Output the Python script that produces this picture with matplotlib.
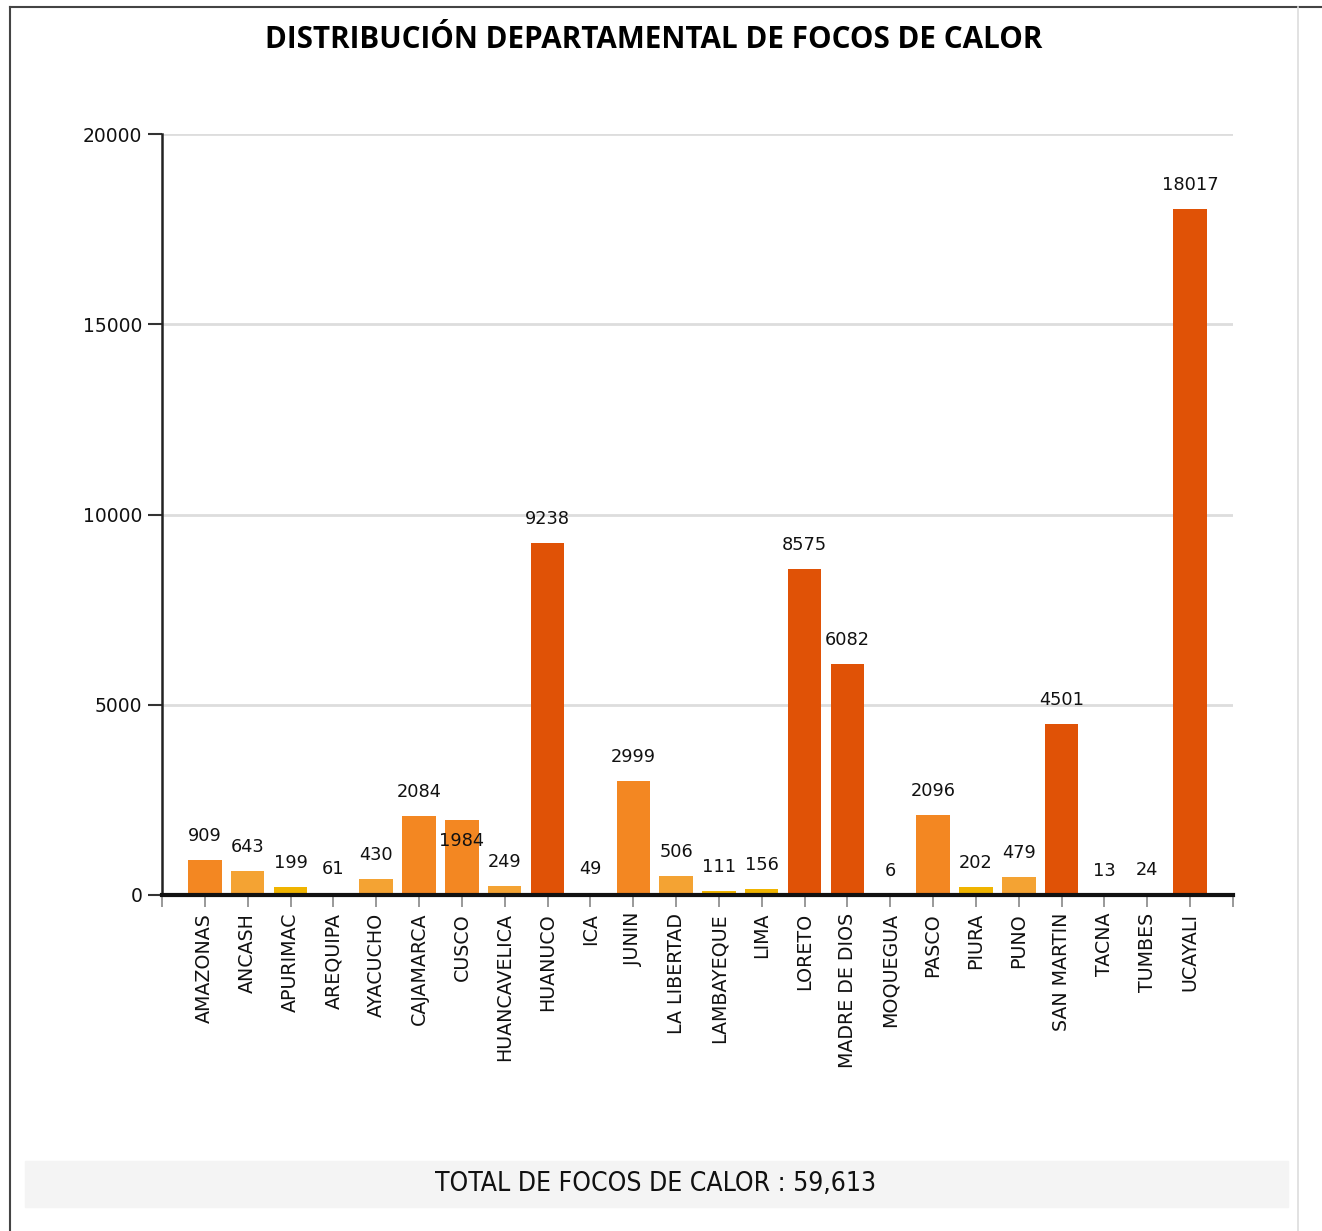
import matplotlib
matplotlib.use("Agg")
import matplotlib.pyplot as plt
import numpy as np

# departamentos y focos de calor
departamentos = ["AMAZONAS", "ANCASH", "APURIMAC", "AREQUIPA", "AYACUCHO", "CAJAMARCA",
                 "CUSCO", "HUANCAVELICA", "HUANUCO", "ICA", "JUNIN", "LA LIBERTAD",
                 "LAMBAYEQUE", "LIMA", "LORETO", "MADRE DE DIOS", "MOQUEGUA", "PASCO",
                 "PIURA", "PUNO", "SAN MARTIN", "TACNA", "TUMBES", "UCAYALI"]
focos = [909, 643, 199, 61, 430, 2084, 1984, 249, 9238, 49, 2999, 506,
         111, 156, 8575, 6082, 6, 2096, 202, 479, 4501, 13, 24, 18017]
y_ticks = [0, 5000, 10000, 15000, 20000]

def color_for(v):
  # colour classes
  if v >= 4000:
    return "#E05206"
  if v >= 900:
    return "#F38722"
  if v >= 225:
    return "#F4A333"
  return "#F0B400"

W, H = 1322, 1231
fig = plt.figure(figsize=(W / 100, H / 100), dpi=100)
plt.rcParams['font.family'] = ['DejaVu Sans']

ax = fig.add_axes([162 / W, 1 - 895 / H, (1233 - 162) / W, (895 - 134) / H])

x = np.arange(1, len(departamentos) + 1)
colors = [color_for(v) for v in focos]
bars = ax.bar(x, focos, width=0.78, color=colors, zorder=3)

for xi, v, name in zip(x, focos, departamentos):
  dy = 19
  if name == "CUSCO":
    dy = -26
  ax.annotate(str(v), (xi, v), xytext=(0, dy), textcoords="offset pixels",
              ha="center", va="baseline", fontsize=12.8, color="#111111", zorder=4)

ax.set_xlim(0, len(departamentos) + 1)
ax.set_ylim(0, 20000)
ax.set_yticks(y_ticks)
ax.set_yticklabels([str(t) for t in y_ticks], fontsize=13.5, color="#111111")
ax.set_xticks(np.arange(0, len(departamentos) + 2))
ax.set_xticklabels([""] + departamentos + [""], rotation=90, fontsize=13.7, color="#111111")
ax.tick_params(axis="x", length=8.6, width=1.2, color="#888888", pad=4.3)
ax.tick_params(axis="y", length=10, width=1.5, color="#333333", pad=4.3)

ax.yaxis.grid(True, color="#DDDDDD", linewidth=2, zorder=0)
ax.set_axisbelow(True)
for s in ["top", "right"]:
  ax.spines[s].set_visible(False)
ax.spines["left"].set_linewidth(1.8)
ax.spines["left"].set_color("#222222")
ax.spines["bottom"].set_linewidth(3)
ax.spines["bottom"].set_color("#111111")
ax.spines["bottom"].set_zorder(5)

fig.text(654 / W, 1 - 40 / H, "DISTRIBUCIÓN DEPARTAMENTAL DE FOCOS DE CALOR",
         ha="center", va="center", fontsize=21.3, fontweight="bold",
         family=["Open Sans", "DejaVu Sans"], color="#000000")

# caja del total
fig.patches.append(plt.Rectangle((25 / W, 1 - 1207 / H), (1288 - 25) / W, 46 / H,
                                 transform=fig.transFigure, color="#F4F4F4", zorder=0))
fig.text(656 / W, 1 - 1184 / H, "TOTAL DE FOCOS DE CALOR : 59,613",
         ha="center", va="center", fontsize=19, family=["DejaVu Sans"],
         fontstretch="condensed", color="#111111")

# marco
fig.add_artist(plt.Line2D([10 / W, 10 / W], [0, 1 - 7 / H], transform=fig.transFigure,
                          color="#444444", linewidth=1.5))
fig.add_artist(plt.Line2D([10 / W, 1], [1 - 7 / H, 1 - 7 / H], transform=fig.transFigure,
                          color="#444444", linewidth=1.5))
fig.add_artist(plt.Line2D([1298 / W, 1298 / W], [0, 1 - 7 / H], transform=fig.transFigure,
                          color="#DDDDDD", linewidth=1.2))

fig.savefig("out.png", dpi=100)
